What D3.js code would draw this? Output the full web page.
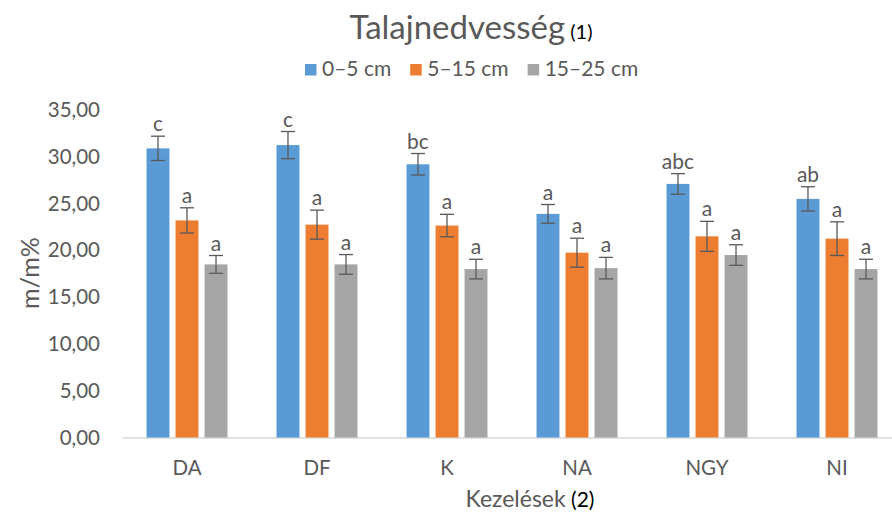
<!DOCTYPE html>
<html>
<head>
<meta charset="utf-8">
<script src="https://cdn.jsdelivr.net/npm/d3@7"></script>
<style>
  body { margin: 0; background: #fff; }
  svg { font-family: Lato, "Open Sans", sans-serif; }
</style>
</head>
<body>
<script>
// Screen dimensions.
const WIDTH = 892;
const HEIGHT = 520;

// Data.
const categories = ["DA", "DF", "K", "NA", "NGY", "NI"];
const series = ["0–5 cm", "5–15 cm", "15–25 cm"];
const colors = ["#5B9BD5", "#ED7D31", "#A5A5A5"];

const values0_5 = [30.9, 31.25, 29.2, 23.9, 27.1, 25.5];
const values5_15 = [23.2, 22.75, 22.65, 19.75, 21.5, 21.25];
const values15_25 = [18.5, 18.5, 18.0, 18.1, 19.5, 18.0];

const err0_5 = [1.3, 1.45, 1.15, 1.0, 1.1, 1.3];
const err5_15 = [1.35, 1.55, 1.2, 1.55, 1.6, 1.8];
const err15_25 = [0.95, 1.05, 1.05, 1.15, 1.1, 1.05];

const letters0_5 = ["c", "c", "bc", "a", "abc", "ab"];
const letters5_15 = ["a", "a", "a", "a", "a", "a"];
const letters15_25 = ["a", "a", "a", "a", "a", "a"];

const yTicks = [0, 5, 10, 15, 20, 25, 30, 35];

const allValues = [values0_5, values5_15, values15_25];
const allErr = [err0_5, err5_15, err15_25];
const allLetters = [letters0_5, letters5_15, letters15_25];

// Rows for drawing
const rows = [];
categories.forEach((c, i) => {
  series.forEach((s, j) => {
    rows.push({ cat: c, ser: s, si: j, v: allValues[j][i], e: allErr[j][i], l: allLetters[j][i] });
  });
});

const TEXT = "#595959";

const svg = d3.select("body").append("svg").attr("width", WIDTH).attr("height", HEIGHT);

// Scales
const x0 = d3.scaleBand().domain(categories).range([122, 902]);
const x1 = d3.scaleBand().domain(series).range([0, x0.bandwidth()])
  .paddingInner(0.21).paddingOuter(0.845);
const y = d3.scaleLinear().domain([0, 35]).range([437.5, 110]);

const hu = d3.formatLocale({ decimal: ",", thousands: " ", grouping: [3], currency: ["", " Ft"] });
const fmt = hu.format(".2f");

// Y axis (labels only)
const yAxis = svg.append("g").attr("transform", "translate(100,0)")
  .call(d3.axisLeft(y).tickValues(yTicks).tickFormat(fmt).tickSize(0).tickPadding(0));
yAxis.select(".domain").remove();
yAxis.selectAll("text").attr("fill", TEXT).style("font-size", "20.5px").style("font-family", "Lato");

// X axis
const xAxis = svg.append("g").attr("transform", "translate(0,437.5)")
  .call(d3.axisBottom(x0).tickSize(0).tickPadding(23));
xAxis.select(".domain").attr("stroke", "#D9D9D9").attr("stroke-width", 1.3);
xAxis.selectAll("text").attr("fill", TEXT).style("font-size", "20.5px").style("font-family", "Lato");

// Bars
const bars = svg.append("g");
bars.selectAll("rect").data(rows).enter().append("rect")
  .attr("x", d => x0(d.cat) + x1(d.ser))
  .attr("y", d => y(d.v))
  .attr("width", x1.bandwidth())
  .attr("height", d => y(0) - y(d.v))
  .attr("fill", d => colors[d.si]);

// Error bars
const eb = svg.append("g").attr("stroke", "#595959").attr("stroke-width", 1.3);
const cx = d => x0(d.cat) + x1(d.ser) + x1.bandwidth() / 2;
eb.selectAll("line.v").data(rows).enter().append("line")
  .attr("x1", cx).attr("x2", cx)
  .attr("y1", d => y(d.v + d.e)).attr("y2", d => y(d.v - d.e));
eb.selectAll("line.t").data(rows).enter().append("line")
  .attr("x1", d => cx(d) - 7).attr("x2", d => cx(d) + 7)
  .attr("y1", d => y(d.v + d.e)).attr("y2", d => y(d.v + d.e));
eb.selectAll("line.b").data(rows).enter().append("line")
  .attr("x1", d => cx(d) - 7).attr("x2", d => cx(d) + 7)
  .attr("y1", d => y(d.v - d.e)).attr("y2", d => y(d.v - d.e));

// Significance letters
svg.append("g").selectAll("text").data(rows).enter().append("text")
  .attr("x", cx)
  .attr("y", d => y(d.v + d.e) - 5)
  .attr("text-anchor", "middle")
  .attr("fill", TEXT)
  .style("font-size", "21px")
  .text(d => d.l);

// Title
const title = svg.append("text").attr("x", 471).attr("y", 39).attr("text-anchor", "middle");
title.append("tspan").attr("fill", TEXT).style("font-size", "33px").text("Talajnedvesség");
title.append("tspan").attr("fill", "#000").style("font-size", "20px").text(" (1)");

// Legend
const legend = svg.append("g").attr("transform", "translate(0,76)");
let lx = 305;
series.forEach((s, j) => {
  legend.append("rect").attr("x", lx).attr("y", -12).attr("width", 11.5).attr("height", 11.5).attr("fill", colors[j]);
  const t = legend.append("text").attr("x", lx + 17).attr("y", 0).attr("fill", TEXT)
    .style("font-size", "21px").text(s);
  lx += 17 + t.node().getComputedTextLength() + 19;
});

// Axis titles
const xt = svg.append("text").attr("x", 530).attr("y", 507).attr("text-anchor", "middle");
xt.append("tspan").attr("fill", TEXT).style("font-size", "23px").text("Kezelések");
xt.append("tspan").attr("fill", "#000").style("font-size", "21px").text(" (2)");

svg.append("text")
  .attr("transform", "translate(39,273) rotate(-90)")
  .attr("text-anchor", "middle")
  .attr("fill", TEXT)
  .style("font-size", "25px")
  .text("m/m%");
</script>
</body>
</html>
